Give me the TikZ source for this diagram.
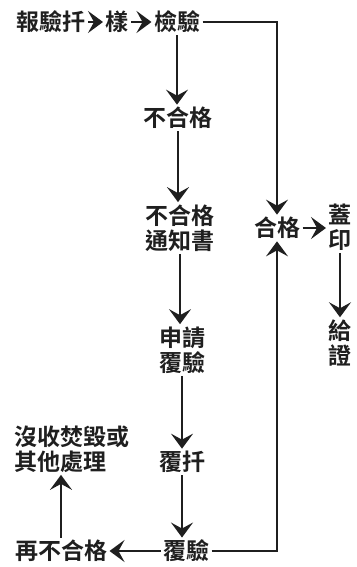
\documentclass[tikz,border=0pt]{standalone}
\usepackage{fontspec}
\newfontfamily\cjk{Noto Sans CJK TC}[BoldFont={Noto Sans CJK TC Bold}]
\usetikzlibrary{arrows.meta,calc}
\tikzset{
  lbl/.style={font=\cjk\bfseries\fontsize{23}{25}\selectfont, inner sep=1pt, outer sep=1.5pt, align=center, text=black!88},
  conn/.style={line width=1.8pt, draw=black!88},
  tip/.tip={Stealth[length=15pt,width=22pt,inset=6pt]},
  arr/.style={conn, -tip}
}
\begin{document}
\begin{tikzpicture}[x=1pt,y=1pt]
\useasboundingbox[fill=white] (0,0) rectangle (356,-567);
\node[lbl] (a) at (51,-22) {報驗扦};
\node[lbl] (b) at (117,-22) {樣};
\node[lbl] (c) at (177,-22) {檢驗};
\node[lbl] (d) at (178,-118) {不合格};
\node[lbl] (e) at (180,-228) {不合格\\通知書};
\node[lbl] (f) at (182,-350) {申請\\覆驗};
\node[lbl] (g) at (182,-462) {覆扦};
\node[lbl] (h) at (186,-551) {覆驗};
\node[lbl] (i) at (61,-551) {再不合格};
\node[lbl, align=left, anchor=west] (j) at (12,-449) {沒收焚毀或\\其他處理};
\node[lbl] (k) at (277,-228) {合格};
\node[lbl] (l) at (340,-227) {蓋\\印};
\node[lbl] (m) at (340,-343) {給\\證};

\draw[arr] (a) -- (b);
\draw[arr] (b) -- (c);
\draw[arr] (c.south) -- (c.south |- d.north);
\draw[arr] (d.south) -- (d.south |- e.north);
\draw[arr] (e.south) -- (e.south |- f.north);
\draw[arr] (f.south) -- (f.south |- g.north);
\draw[arr] (g.south) -- (g.south |- h.north);
\draw[arr] (h.west) -- (i.east);
\draw[arr] (i.north) -- (i.north |- j.south);
\draw[arr] (c.east) -| (k.north);
\draw[arr] (h.east) -| (k.south);
\draw[arr] (k.east) -- (l.west |- k.east);
\draw[arr] (l.south) -- (m.north);
\end{tikzpicture}
\end{document}
